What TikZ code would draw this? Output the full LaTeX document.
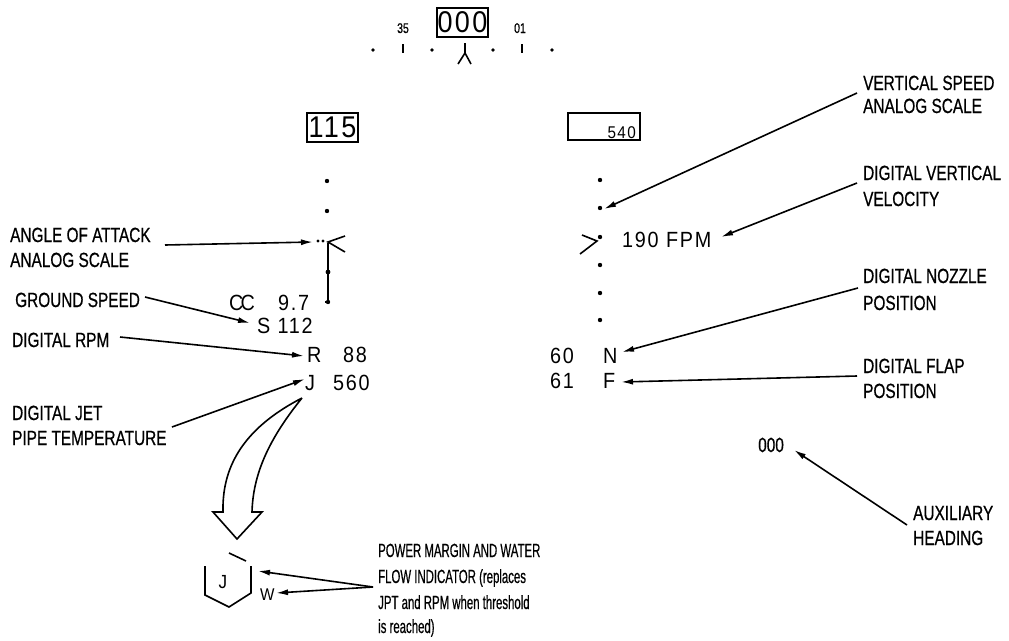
\documentclass[tikz,border=0pt]{standalone}
\usepackage{fontspec}
\setmainfont{Liberation Sans}
\newfontfamily\labfam{Liberation Sans}[FakeStretch=0.75,FakeBold=0.6]
\newfontfamily\notefam{Liberation Sans}[FakeStretch=0.6,FakeBold=0.5]
\newfontfamily\dispfam{Liberation Sans}[FakeStretch=0.9,LetterSpace=8]
\usetikzlibrary{arrows.meta,calc}
\tikzset{
  lab/.style={font=\labfam\fontsize{20.5}{22}\selectfont, anchor=base west, inner sep=0pt},
  note/.style={font=\notefam\fontsize{19}{22}\selectfont, anchor=base west, inner sep=0pt},
  disp/.style={font=\dispfam\fontsize{22}{24}\selectfont, anchor=base west, inner sep=0pt},
  arr/.style={line width=1.6pt, -{Latex[length=12pt,width=6pt]}},
  pen/.style={line width=1.6pt},
  boxn/.style={draw, line width=1.8pt, inner sep=0pt}
}
\begin{document}
\begin{tikzpicture}[x=1pt,y=-1pt]
\useasboundingbox[fill=white] (0,0) rectangle (1009,640);

% ---------- heading tape ----------
\node[boxn, minimum width=51pt, minimum height=29pt, font=\dispfam\fontsize{30}{30}\selectfont] (hdgbox) at (462.5,22.5) {000};
\node[font=\labfam\fontsize{14}{14}\selectfont, anchor=base, inner sep=0pt] (h35) at (403,33) {35};
\node[font=\labfam\fontsize{14}{14}\selectfont, anchor=base, inner sep=0pt] (h01) at (520,33) {01};
\foreach \x in {373,432,493,552} \fill (\x,50) circle (1.8pt);
\draw[pen] (403,44) -- (403,53);
\draw[pen] (522,44) -- (522,53);
\draw[pen] (465,43) -- (465,53);
\draw[pen] (458,64) -- (465,53) -- (471,64);

% ---------- left airspeed ----------
\node[boxn, minimum width=51pt, minimum height=29pt, font=\dispfam\fontsize{30}{30}\selectfont] (asbox) at (332.5,127.5) {115};
\foreach \y in {181,211} \fill (327,\y) circle (2.2pt);
\fill (318,241) circle (1.6pt);
\fill (323,241) circle (1.6pt);
\draw[pen] (345,236) -- (328,242) -- (345,252);
\draw[pen] (328,243) -- (328,302) -- (325,302);
\fill (328,272) circle (2.4pt);
\fill (328,302) circle (2.2pt);

\node[disp] (cc) at (229,310) {C\kern-3pt C};
\node[disp] (v97) at (278,310) {9.7};
\node[disp] (s112) at (257,333) {S 112};
\node[disp] (rr) at (307,362) {R};
\node[disp] (r88) at (343,362) {88};
\node[disp] (jj) at (305,390) {J};
\node[disp] (j560) at (333,390) {560};

% ---------- right VSI ----------
\node[boxn, minimum width=72pt, minimum height=27pt] (vsbox) at (604,126.5) {};
\node[font=\dispfam\fontsize{17}{17}\selectfont, anchor=base east, inner sep=0pt] (v540) at (636,138) {540};
\foreach \y in {180,208,237,265,293,320} \fill (600,\y) circle (2.2pt);
\draw[pen] (582,235) -- (597,241) -- (580,254);
\node[disp] (fpm) at (622,247) {190 FPM};
\node[disp] (n60) at (550,363) {60};
\node[disp] (nN) at (603,363) {N};
\node[disp] (f61) at (550,388) {61};
\node[disp] (fF) at (603,388) {F};

\node[lab] (aux) at (758,452) {000};

% ---------- labels ----------
\node[lab] (aoa1) at (10,242) {ANGLE OF ATTACK};
\node[lab] (aoa2) at (10,267) {ANALOG SCALE};
\node[lab] (gs) at (15,307) {GROUND SPEED};
\node[lab] (rpm) at (12,347) {DIGITAL RPM};
\node[lab] (jpt1) at (12,420) {DIGITAL JET};
\node[lab] (jpt2) at (12,445) {PIPE TEMPERATURE};
\node[lab] (vs1) at (863,90) {VERTICAL SPEED};
\node[lab] (vs2) at (863,113) {ANALOG SCALE};
\node[lab] (vv1) at (863,180) {DIGITAL VERTICAL};
\node[lab] (vv2) at (863,206) {VELOCITY};
\node[lab] (nz1) at (863,283) {DIGITAL NOZZLE};
\node[lab] (nz2) at (863,310) {POSITION};
\node[lab] (fl1) at (863,373) {DIGITAL FLAP};
\node[lab] (fl2) at (863,398) {POSITION};
\node[lab] (ax1) at (913,520) {AUXILIARY};
\node[lab] (ax2) at (913,545) {HEADING};
\node[note] (pm1) at (378,557) {POWER MARGIN AND WATER};
\node[note] (pm2) at (378,583) {FLOW INDICATOR (replaces};
\node[note] (pm3) at (378,609) {JPT and RPM when threshold};
\node[note] (pm4) at (378,633) {is reached)};

% ---------- hexagon indicator ----------
\draw[pen] (205,566) -- (205,595) -- (229,607) -- (251,593) -- (251,566);
\draw[pen] (229,553) -- (246,561);
\node[font=\dispfam\fontsize{19}{19}\selectfont, anchor=base, inner sep=0pt] (hexJ) at (223,588) {J};
\node[font=\dispfam\fontsize{17}{17}\selectfont, anchor=base west, inner sep=0pt] (hexW) at (260,600) {W};

% ---------- hollow curved arrow ----------
\draw[pen, line join=miter] (302,398) .. controls (240,430) and (222,470) .. (223,512)
  -- (213,512) -- (237,539) -- (262,512) -- (252,512)
  .. controls (253,475) and (268,440) .. (302,398);

% ---------- connector points ----------
\coordinate (aoaS) at (165,245);  \coordinate (aoaT) at (313,242);
\coordinate (gsS) at (145,297);   \coordinate (gsT) at (250,323);
\coordinate (rpmS) at (120,337);  \coordinate (rpmT) at (304,356);
\coordinate (jptS) at (172,427);  \coordinate (jptT) at (305,379);
\coordinate (vsS) at (857,93);    \coordinate (vsT) at (604,209);
\coordinate (vvS) at (857,183);   \coordinate (vvT) at (721,237);
\coordinate (nzS) at (858,288);   \coordinate (nzT) at (622,352);
\coordinate (flS) at (857,376);   \coordinate (flT) at (621,382);
\coordinate (axS) at (907,525);   \coordinate (axT) at (794,450);
\coordinate (pmS) at (373,587);
\coordinate (pmT1) at (258,571);  \coordinate (pmT2) at (276,593);

\draw[arr] (aoaS) -- (aoaT);
\draw[arr] (gsS) -- (gsT);
\draw[arr] (rpmS) -- (rpmT);
\draw[arr] (jptS) -- (jptT);
\draw[arr] (vsS) -- (vsT);
\draw[arr] (vvS) -- (vvT);
\draw[arr] (nzS) -- (nzT);
\draw[arr] (flS) -- (flT);
\draw[arr] (axS) -- (axT);
\draw[arr] (pmS) -- (pmT1);
\draw[arr] (pmS) -- (pmT2);
\end{tikzpicture}
\end{document}
